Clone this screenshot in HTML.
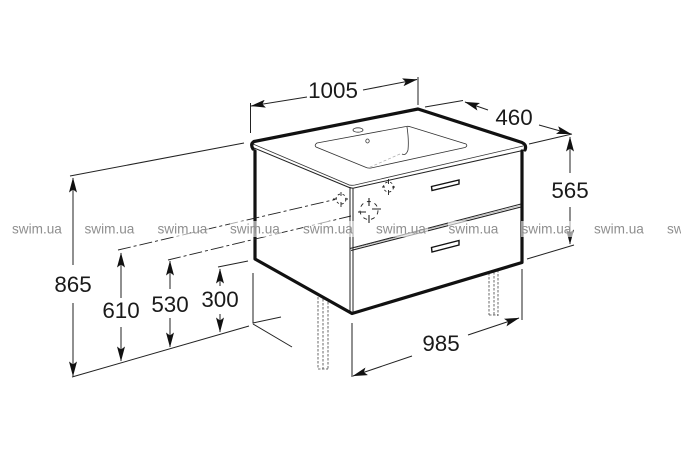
<!DOCTYPE html>
<html>
<head>
<meta charset="utf-8">
<style>
html,body{margin:0;padding:0;background:#fff;width:681px;height:462px;overflow:hidden}
svg{display:block}
text{font-family:"Liberation Sans",sans-serif}
.d{font-size:22.4px;fill:#1a1a1a;text-anchor:middle}
.w{font-size:13.6px;fill:#8f8f8f}
.t{stroke:#111;stroke-width:3.2;fill:none;stroke-linecap:round;stroke-linejoin:round}
.l{stroke:#222;stroke-width:1;fill:none}
.h{stroke:#333;stroke-width:.8;fill:none}
</style>
</head>
<body>
<svg width="681" height="462" viewBox="0 0 681 462" xmlns="http://www.w3.org/2000/svg">
<defs>
<marker id="a" viewBox="0 0 15 8" refX="14.500" refY="4" markerWidth="15" markerHeight="8" markerUnits="userSpaceOnUse" orient="auto-start-reverse"><path d="M0 0L15 4L0 8L3 4Z" fill="#111"/></marker>
</defs>

<!-- legs -->
<g stroke="#444" stroke-width=".8" stroke-dasharray="2.500 1.500" fill="none">
<path d="M318 297V369M323 299V369M328 302V369M318 369H328"/>
<path d="M489 273V315M494 272V316M498 270V316M489 315H498"/>
</g>

<!-- basin -->
<path class="h" d="M317 143L406 126.500Q408 126 411 127L466 144Q468 146 465 147.500L371 168Q368 168.500 365 167L316 147Q314 145 317 143Z"/>
<path class="h" d="M407 127Q409 140 408 150Q406 156 402 154" stroke-width=".7"/>
<path d="M400 154L368 168" stroke="#aaa" stroke-width=".7" stroke-dasharray="3 2" fill="none"/>
<ellipse cx="358" cy="130" rx="5" ry="2.200" class="h"/>
<ellipse cx="367.500" cy="141" rx="1.700" ry="2" class="h"/>

<!-- counter edges -->
<path class="h" d="M253 144L347 184Q350 186 355 185L523 146"/>
<path class="l" d="M254 148L348 187Q351 188.500 354 188L525 150"/>

<!-- cabinet -->
<path class="l" d="M350 187V313M353 188V314"/>
<path class="l" d="M350 248.500L521 204M351 250.500L521 207"/>
<path d="M355 248L521 205.500" stroke="#999" stroke-width=".6"/>
<path class="t" d="M255 151V259L352 313.500L522 262.500V151"/>
<path class="t" stroke-width="3.400" d="M253 149Q250 144 254 141.500L418 109L522 142.500Q527 145 525 150"/>

<!-- handles -->
<path d="M431.500 186.500L459 180V184L432 190.500Z" fill="#fff" stroke="#111" stroke-width="1.400"/>
<path d="M431.500 247.500L459 240.500V245L432 252Z" fill="#fff" stroke="#111" stroke-width="1.400"/>

<!-- mounting targets -->
<g stroke="#222" stroke-width=".9" fill="none">
<circle cx="388.500" cy="187" r="5" stroke-dasharray="2.500 2.500"/>
<path d="M388.500 179V184M388.500 190V195M382 187H385M392 187H395"/>
<circle cx="341" cy="199" r="5" stroke-dasharray="2.500 2.500"/>
<path d="M341 192V196M341 202V207M333 199H337M345 199H348"/>
<circle cx="369" cy="210.500" r="9" stroke-dasharray="4 4"/>
<path d="M369 198V206M369 215V223M358 212H366M372 209H381" stroke-width="1.100"/>
</g>

<!-- chain lines -->
<g stroke="#222" stroke-width=".9" stroke-dasharray="13 3 3 3" fill="none">
<path d="M118 250L335 199.500"/>
<path d="M168 260L351 216"/>
</g>

<!-- extension lines -->
<g class="l">
<path class="l" d="M250.500 103V133M418 77V105"/>
<path class="l" d="M425 107L463 100.500"/>
<path class="l" d="M529 144L572 134"/>
<path class="l" d="M527 259L574 245"/>
<path class="l" d="M70 176L244 143"/>
<path class="l" d="M72 377L249 326"/>
<path class="l" d="M218 267L248 261"/>
<path class="l" d="M253 273V323L281 317M253 324L292 347"/>
<path class="l" d="M352 323V377M522 269V320"/>
</g>

<!-- dimension arrows -->
<g class="l">
<path class="l" d="M307 97L251 106" marker-end="url(#a)"/>
<path class="l" d="M363 90L417 79.500" marker-end="url(#a)"/>
<path class="l" d="M488 110L465 102" marker-end="url(#a)"/>
<path class="l" d="M539 125L571 134" marker-end="url(#a)"/>
<path class="l" d="M570 173V137" marker-end="url(#a)"/>
<path class="l" d="M570 207V244" marker-end="url(#a)"/>
<path class="l" d="M73 265V178" marker-end="url(#a)"/>
<path class="l" d="M73 303V376" marker-end="url(#a)"/>
<path class="l" d="M121 298V253" marker-end="url(#a)"/>
<path class="l" d="M121 327V361" marker-end="url(#a)"/>
<path class="l" d="M170 289V261" marker-end="url(#a)"/>
<path class="l" d="M170 318V347" marker-end="url(#a)"/>
<path class="l" d="M220 286V269" marker-end="url(#a)"/>
<path class="l" d="M220 314V332" marker-end="url(#a)"/>
<path class="l" d="M412 356L353 376" marker-end="url(#a)"/>
<path class="l" d="M468 335L519 318" marker-end="url(#a)"/>
</g>

<!-- dimension labels -->
<text class="d" x="333" y="98">1005</text>
<text class="d" x="514" y="125">460</text>
<text class="d" x="570" y="198">565</text>
<text class="d" x="73" y="292">865</text>
<text class="d" x="121" y="318">610</text>
<text class="d" x="170" y="312">530</text>
<text class="d" x="220" y="307">300</text>
<text class="d" x="441" y="351">985</text>

<!-- watermark -->
<g fill="#fff" fill-opacity=".6">
<rect x="11" y="221" width="52" height="16"/><rect x="84" y="221" width="52" height="16"/>
<rect x="157" y="221" width="52" height="16"/><rect x="230" y="221" width="52" height="16"/>
<rect x="303" y="221" width="52" height="16"/><rect x="376" y="221" width="52" height="16"/>
<rect x="448" y="221" width="52" height="16"/><rect x="521" y="221" width="52" height="16"/>
<rect x="594" y="221" width="52" height="16"/><rect x="667" y="221" width="14" height="16"/>
</g>
<g class="w">
<text class="w" x="12" y="233.500">swim.ua</text>
<text class="w" x="84.500" y="233.500">swim.ua</text>
<text class="w" x="157.500" y="233.500">swim.ua</text>
<text class="w" x="230" y="233.500">swim.ua</text>
<text class="w" x="303" y="233.500">swim.ua</text>
<text class="w" x="376" y="233.500">swim.ua</text>
<text class="w" x="448.500" y="233.500">swim.ua</text>
<text class="w" x="521.500" y="233.500">swim.ua</text>
<text class="w" x="594" y="233.500">swim.ua</text>
<text class="w" x="667" y="233.500">swim.ua</text>
</g>
</svg>
</body>
</html>
